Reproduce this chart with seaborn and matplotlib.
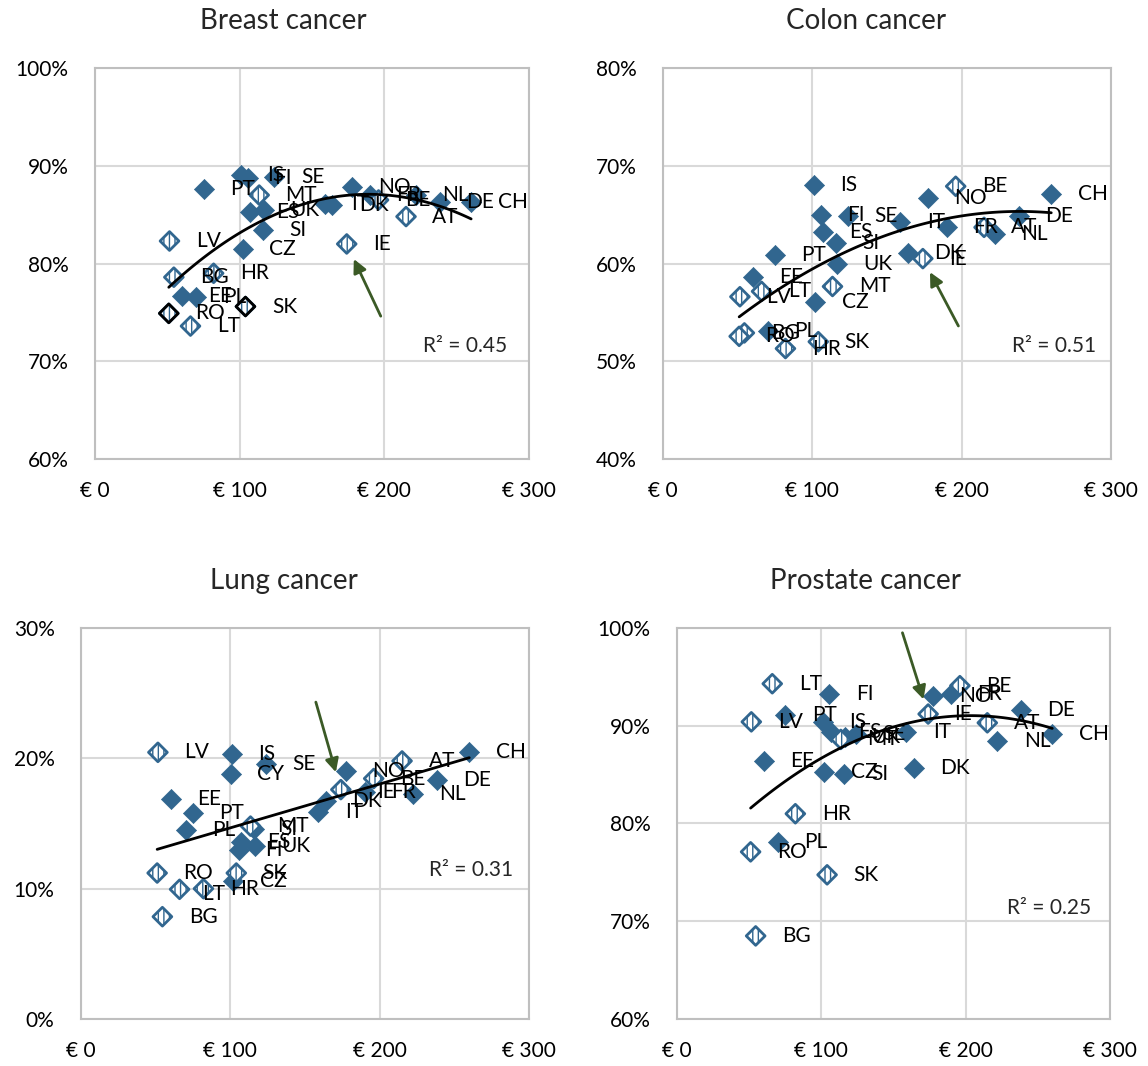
import numpy as np
import pandas as pd
import seaborn as sns
import matplotlib
matplotlib.use("Agg")
import matplotlib.pyplot as plt
from matplotlib.ticker import FixedLocator, FuncFormatter

# ---- data -------------------------------------------------------------
countries = ["IS", "FI", "SE", "PT", "MT", "ES", "UK", "SI", "CZ", "LV",
             "BG", "HR", "EE", "PL", "RO", "LT", "SK", "IE", "IT", "DK",
             "NO", "FR", "BE", "NL", "AT", "DE", "CH", "CY"]
# cancer drug expenditure per capita (EUR)
spend = [101, 105.5, 124, 75, 113.5, 107, 116.5, 116, 102, 51.5,
         54.5, 82, 60, 70, 51, 66, 104, 174, 159, 164,
         177.5, 190, 196, 222, 215, 238.5, 260, 100.5]
# 5-year survival (%)
breast = [89.1, 88.7, 88.9, 87.6, 87.0, 85.3, 85.5, 83.4, 81.5, 82.3,
          78.6, 79.0, 76.7, 76.6, 74.9, 73.6, 75.6, 82.0, 86.1, 86.0,
          87.8, 87.0, 86.5, 87.0, 84.8, 86.3, 86.3, np.nan]
colon = [68.05, 65.0, 64.9, 60.9, 57.65, 63.2, 60.0, 62.1, 56.1, 56.6,
         52.9, 51.3, 58.6, 53.1, 52.55, 57.15, 52.0, 60.5, 64.2, 61.1,
         66.7, 63.7, 67.9, 63.0, 63.7, 64.9, 67.15, np.nan]
lung = [20.33, 13.0, 19.56, 15.8, 14.8, 13.6, 13.3, 14.6, 10.6, 20.46,
        7.85, 10.0, 16.9, 14.5, 11.2, 9.95, 11.2, 17.6, 15.85, 16.75,
        19.05, 17.4, 18.45, 17.25, 19.8, 18.35, 20.45, 18.8]
prostate = [90.4, 93.2, 89.2, 91.1, 88.6, 89.4, 88.8, 85.05, 85.3, 90.4,
            68.5, 81.0, 86.35, 78.1, 77.1, 94.3, 74.75, 91.2, 89.4, 85.7,
            93.0, 93.2, 94.1, 88.4, 90.3, 91.6, 89.2, np.nan]

hollow = ["LV", "BG", "HR", "MT", "LT", "RO", "SK", "IE", "AT", "BE"]
black_edge_breast = ["RO", "SK"]

titles = ["Breast cancer", "Colon cancer", "Lung cancer", "Prostate cancer"]
series = [breast, colon, lung, prostate]
ylims = [(60, 100), (40, 80), (0, 30), (60, 100)]
fit_order = [2, 2, 1, 2]
r2_text = ["R² = 0.45", "R² = 0.51", "R² = 0.31", "R² = 0.25"]
x_ticks = [0, 100, 200, 300]

# ---- layout / style ---------------------------------------------------
W, H = 1148, 1066
px_rects = [(95, 68, 529, 459), (663, 68, 1111, 459),
            (81, 628, 529, 1019), (677, 628, 1110, 1019)]
title_x = [0.433, 0.453, 0.453, 0.436]
r2_pos = [(0.853, 0.289), (0.873, 0.289), (0.871, 0.381), (0.859, 0.284)]
# arrow tail offsets (points) relative to the highlighted point
arrow_tail = [(24.5, -52), (25.6, -48.5), (-18, 63), (-18.5, 58.5)]
arrow_shrink = [12, 11, 13, 11]
highlight = "IE"

label_shift = {
    (2, "IE"): (7, -2),
    (2, "LT"): (-2.6, -3.6),
}

BLUE = "#31668f"
GREEN = "#3b5a26"
GRID = "#d9d9d9"
SPINE = "#bfbfbf"

sns.set_theme(style="white")
plt.rcParams["font.family"] = ["Lato", "DejaVu Sans"]
plt.rcParams["hatch.linewidth"] = 1.0

fig = plt.figure(figsize=(W / 100, H / 100), dpi=100)

for i in range(4):
    l, t, r, b = px_rects[i]
    ax = fig.add_axes([l / W, 1 - b / H, (r - l) / W, (b - t) / H])
    df = pd.DataFrame({"country": countries, "spend": spend, "surv": series[i]}).dropna()
    df["hollow"] = df["country"].isin(hollow)

    ax.set_xlim(0, 300)
    ax.set_ylim(*ylims[i])

    sns.regplot(data=df, x="spend", y="surv", order=fit_order[i], ci=None,
                scatter=False, truncate=True,
                line_kws=dict(color="black", lw=2, zorder=4), ax=ax)

    filled = df[~df["hollow"]]
    empty = df[df["hollow"]]
    sns.scatterplot(data=filled, x="spend", y="surv", marker="D", s=105,
                    color=BLUE, edgecolor=BLUE, linewidth=0.5, zorder=3, ax=ax)
    sns.scatterplot(data=empty, x="spend", y="surv", marker="D", s=92,
                    color="white", edgecolor=BLUE, linewidth=2.0, hatch="|||",
                    zorder=3, ax=ax)
    if i == 0:
        dark = df[df["country"].isin(black_edge_breast)]
        sns.scatterplot(data=dark, x="spend", y="surv", marker="D", s=92,
                        color="none", edgecolor="black", linewidth=2.0,
                        zorder=3.5, ax=ax)

    for _, row in df.iterrows():
        dx, dy = label_shift.get((i, row["country"]), (0, 0))
        ax.annotate(row["country"], (row["spend"], row["surv"]),
                    xytext=(19 + dx, dy), textcoords="offset points",
                    ha="left", va="center", fontsize=15, color="black",
                    zorder=5)

    hl = df[df["country"] == highlight].iloc[0]
    ax.annotate("", xy=(hl["spend"], hl["surv"]), xytext=arrow_tail[i],
                textcoords="offset points",
                arrowprops=dict(arrowstyle="-|>", color=GREEN, lw=2,
                                mutation_scale=20, shrinkA=0,
                                shrinkB=arrow_shrink[i]), zorder=6)

    ax.text(r2_pos[i][0], r2_pos[i][1], r2_text[i], transform=ax.transAxes,
            ha="center", va="center", fontsize=15)

    y0, y1 = ylims[i]
    ax.xaxis.set_major_locator(FixedLocator(x_ticks))
    ax.yaxis.set_major_locator(FixedLocator(np.arange(y0, y1 + 1, 10)))
    ax.xaxis.set_major_formatter(FuncFormatter(lambda v, p: f"€ {v:.0f}"))
    ax.yaxis.set_major_formatter(FuncFormatter(lambda v, p: f"{v:.0f}%"))
    ax.grid(True, color=GRID, lw=1.5)
    ax.set_axisbelow(True)
    for s in ax.spines.values():
        s.set_visible(True)
        s.set_color(SPINE)
        s.set_linewidth(1.5)
    ax.tick_params(axis="both", length=0, labelsize=15, colors="black")
    ax.tick_params(axis="x", pad=16)
    ax.tick_params(axis="y", pad=19)
    ax.set_xlabel("")
    ax.set_ylabel("")
    ax.set_title(titles[i], fontsize=20, pad=28, x=title_x[i])

fig.savefig("out.png", dpi=100)
